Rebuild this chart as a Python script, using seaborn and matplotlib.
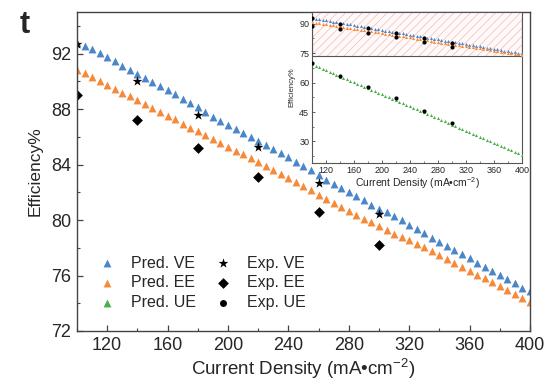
import numpy as np
import pandas as pd
import matplotlib
matplotlib.use("Agg")
import matplotlib.pyplot as plt
import seaborn as sns
from matplotlib.patches import Rectangle
from matplotlib.ticker import MultipleLocator

# predicted efficiencies on a 5 mA/cm2 grid
current_pred = np.arange(100, 401, 5)
pred_ve = [92.75, 92.55, 92.33, 92.03, 91.74, 91.45, 91.14, 90.83, 90.54, 90.23,
           89.94, 89.66, 89.35, 89.06, 88.75, 88.44, 88.12, 87.80, 87.45, 87.15,
           86.84, 86.55, 86.24, 85.96, 85.71, 85.40, 85.10, 84.81, 84.52, 84.21,
           83.92, 83.61, 83.25, 82.92, 82.62, 82.31, 82.01, 81.70, 81.41, 81.10,
           80.82, 80.56, 80.27, 79.97, 79.65, 79.33, 79.03, 78.72, 78.43, 78.11,
           77.83, 77.52, 77.23, 76.92, 76.64, 76.32, 76.04, 75.73, 75.44, 75.13,
           74.85]
pred_ee = [90.83, 90.59, 90.30, 90.01, 89.76, 89.47, 89.18, 88.92, 88.63, 88.34,
           88.08, 87.79, 87.51, 87.25, 86.96, 86.67, 86.43, 86.12, 85.84, 85.57,
           85.28, 85.00, 84.74, 84.45, 84.16, 83.90, 83.61, 83.33, 83.06, 82.77,
           82.45, 82.15, 81.80, 81.51, 81.23, 80.94, 80.68, 80.39, 80.11, 79.84,
           79.56, 79.27, 79.00, 78.80, 78.54, 78.30, 78.03, 77.74, 77.50, 77.21,
           76.91, 76.62, 76.31, 76.05, 75.79, 75.52, 75.24, 74.95, 74.66, 74.41,
           74.12]
pred_ue = [69.3, 68.5, 67.8, 67.0, 66.2, 65.4, 64.7, 63.9, 63.1, 62.4,
           61.6, 60.9, 60.1, 59.4, 58.6, 57.9, 57.1, 56.3, 55.6, 54.8,
           54.1, 53.3, 52.5, 51.8, 51.0, 50.2, 49.5, 48.7, 47.9, 47.1,
           46.4, 45.6, 44.8, 44.0, 43.3, 42.5, 41.7, 40.9, 40.2, 39.4,
           38.6, 37.8, 37.1, 36.3, 35.5, 34.7, 34.0, 33.2, 32.4, 31.6,
           30.9, 30.1, 29.3, 28.6, 27.8, 27.0, 26.2, 25.5, 24.7, 23.9,
           23.2]

# measured efficiencies
current_exp = [100, 140, 180, 220, 260, 300]
exp_ve = [92.7, 90.0, 87.6, 85.3, 82.7, 80.4]
exp_ee = [89.0, 87.2, 85.2, 83.1, 80.6, 78.2]
exp_ue = [69.8, 63.3, 57.9, 52.2, 45.3, 39.2]

x_ticks = [120, 160, 200, 240, 280, 320, 360, 400]
main_y_ticks = [72, 76, 80, 84, 88, 92]
inset_y_ticks = [30, 45, 60, 75, 90]

BLUE, ORANGE, GREEN = "#4a86c8", "#f58a3a", "#4daf4a"

sns.set_style("ticks")
plt.rcParams["font.family"] = ["Liberation Sans", "DejaVu Sans"]
plt.rcParams["hatch.linewidth"] = 0.5
plt.rcParams["mathtext.fontset"] = "custom"
plt.rcParams["mathtext.rm"] = "Liberation Sans"

pred = pd.DataFrame({"j": current_pred, "VE": pred_ve, "EE": pred_ee, "UE": pred_ue})
exp = pd.DataFrame({"j": current_exp, "VE": exp_ve, "EE": exp_ee, "UE": exp_ue})

fig = plt.figure(figsize=(5.53, 3.85), dpi=100)
ax = fig.add_axes([0.1392, 0.1403, 0.8192, 0.8285])

series = [
    (pred, "VE", "^", BLUE, 32, "Pred. VE"),
    (pred, "EE", "^", ORANGE, 32, "Pred. EE"),
    (pred, "UE", "^", GREEN, 32, "Pred. UE"),
    (exp, "VE", "*", "black", 55, "Exp. VE"),
    (exp, "EE", "D", "black", 30, "Exp. EE"),
    (exp, "UE", "o", "black", 25, "Exp. UE"),
]
for df, col, mk, c, s, lab in series:
    sns.scatterplot(data=df, x="j", y=col, marker=mk, color=c, s=s,
                    linewidth=0, label=lab, ax=ax)

ax.set_xlim(100, 400)
ax.set_ylim(72, 95)
ax.set_xticks(x_ticks)
ax.set_yticks(main_y_ticks)
ax.xaxis.set_minor_locator(MultipleLocator(20))
ax.yaxis.set_minor_locator(MultipleLocator(2))
ax.tick_params(which="major", direction="in", length=4, width=0.9,
               labelsize=13, color="#444444", pad=4)
ax.tick_params(which="minor", direction="in", length=2, width=0.8, color="#444444")
for sp in ax.spines.values():
    sp.set_visible(True)
    sp.set_color("#444444")
    sp.set_linewidth(1.0)
ax.set_xlabel("Current Density (mA\u2022cm$^{-2}$)", fontsize=13.5, labelpad=2)
ax.set_ylabel("Efficiency%", fontsize=12.5, labelpad=6)

ax.legend(loc="lower left", bbox_to_anchor=(0.0, 0.02), ncol=2, frameon=False,
          fontsize=11.5, handletextpad=0.5, columnspacing=0.7, labelspacing=0.3,
          markerscale=1.0)

fig.text(0.035, 0.975, "t", fontsize=22, fontweight="bold", va="top", ha="left")

# inset with the full efficiency range
ins = fig.add_axes([0.5642, 0.5766, 0.3797, 0.3922])
ins.add_patch(Rectangle((100, 73.5), 300, 30, facecolor="#fffafa",
                        edgecolor="#f6b8b8", hatch="////", linewidth=0, zorder=0))
ins.add_patch(Rectangle((100, 73.5), 300, 30, facecolor="none",
                        edgecolor="#555555", linewidth=0.8, zorder=1))
for df, col, mk, c, s in [(pred, "VE", "^", BLUE, 5), (pred, "EE", "^", ORANGE, 5),
                          (pred, "UE", "^", GREEN, 5), (exp, "VE", "o", "black", 9),
                          (exp, "EE", "o", "black", 9), (exp, "UE", "o", "black", 9)]:
    sns.scatterplot(data=df, x="j", y=col, marker=mk, color=c, s=s,
                    linewidth=0, ax=ins, legend=False, zorder=3)
ins.set_xlim(100, 400)
ins.set_ylim(19, 96)
ins.set_xticks(x_ticks)
ins.set_yticks(inset_y_ticks)
ins.xaxis.set_minor_locator(MultipleLocator(20))
ins.yaxis.set_minor_locator(MultipleLocator(7.5))
ins.tick_params(which="major", direction="in", length=2.5, width=0.6,
                labelsize=6.5, color="#444444", pad=2)
ins.tick_params(which="minor", direction="in", length=1.3, width=0.5, color="#444444")
for sp in ins.spines.values():
    sp.set_visible(True)
    sp.set_color("#555555")
    sp.set_linewidth(0.8)
ins.set_xlabel("Current Density (mA\u2022cm$^{-2}$)", fontsize=7.5, labelpad=0.5)
ins.set_ylabel("Efficiency%", fontsize=5.5, labelpad=3)

fig.savefig("out.png", dpi=100)
